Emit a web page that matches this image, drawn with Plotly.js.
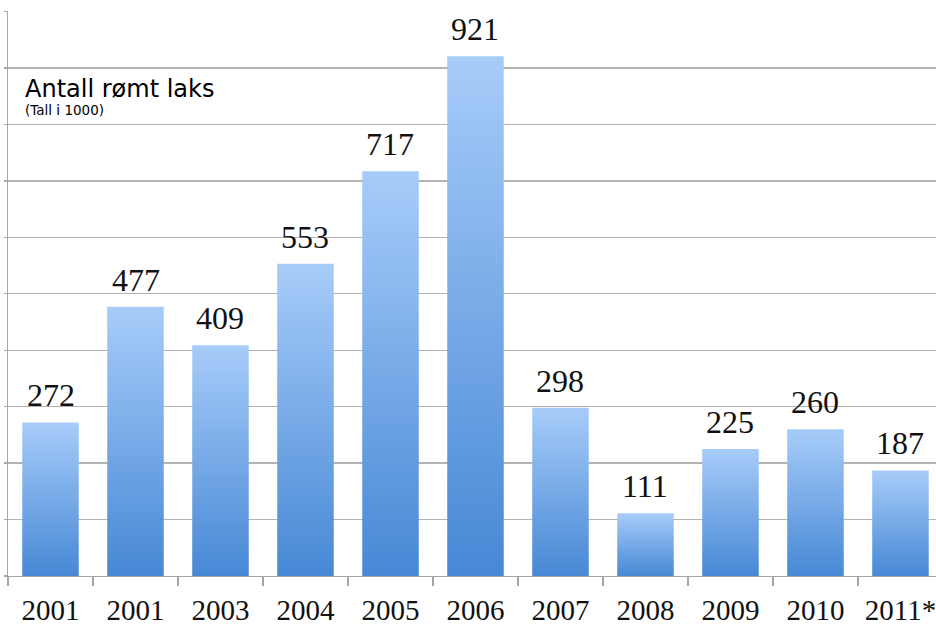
<!DOCTYPE html>
<html>
<head>
<meta charset="utf-8">
<script src="https://cdn.plot.ly/plotly-3.0.1.min.js"></script>
<style>
  html, body { margin: 0; padding: 0; background: #ffffff; }
  #chart { width: 936px; height: 627px; }
</style>
</head>
<body>
<div id="chart"></div>
<script>
// ---- data ----
const yearLabels = ['2001', '2001', '2003', '2004', '2005', '2006', '2007', '2008', '2009', '2010', '2011*'];
const escapedSalmon = [272, 477, 409, 553, 717, 921, 298, 111, 225, 260, 187];
const chartTitle = 'Antall rømt laks';
const chartSubtitle = '(Tall i 1000)';

const positions = yearLabels.map((_, i) => i);

const valueFont = { family: 'Liberation Serif, Times New Roman, serif', size: 32, color: '#111111' };

const trace = {
  type: 'bar',
  x: positions,
  y: escapedSalmon,
  marker: { color: '#6fa5e6', line: { width: 0 } },
  hoverinfo: 'skip'
};

const valueAnnotations = escapedSalmon.map((v, i) => ({
  x: positions[i], y: v, xref: 'x', yref: 'y',
  text: String(v), showarrow: false,
  xanchor: 'center', yanchor: 'bottom', yshift: 7,
  font: valueFont
}));

const titleAnnotations = [
  { xref: 'paper', yref: 'paper', x: 0, y: 0.862, xanchor: 'left', yanchor: 'middle', xshift: 15,
    text: chartTitle, showarrow: false,
    font: { family: 'DejaVu Sans, Verdana, sans-serif', size: 24, color: '#000000' } },
  { xref: 'paper', yref: 'paper', x: 0, y: 0.825, xanchor: 'left', yanchor: 'middle', xshift: 15,
    text: chartSubtitle, showarrow: false,
    font: { family: 'DejaVu Sans, Verdana, sans-serif', size: 13.5, color: '#000000' } }
];

const layout = {
  width: 936, height: 627,
  margin: { l: 8, r: 0, t: 11, b: 51, pad: 0 },
  paper_bgcolor: '#ffffff', plot_bgcolor: '#ffffff',
  showlegend: false,
  bargap: 0.335,
  xaxis: {
    type: 'linear',
    range: [-0.5, 10.418],
    tickmode: 'array', tickvals: positions, ticktext: yearLabels,
    ticks: '', showgrid: false, zeroline: false,
    showline: true, linecolor: '#a6a6a6', linewidth: 1.3,
    tickfont: { family: 'Liberation Serif, Times New Roman, serif', size: 29, color: '#111111' },
    ticklabelstandoff: 8,
    ticklabeloverflow: 'allow',
    minor: { tick0: -0.5, dtick: 1, ticks: 'outside', ticklen: 9, tickwidth: 1.3, tickcolor: '#a6a6a6', showgrid: false },
    fixedrange: true
  },
  yaxis: {
    range: [0, 1001],
    dtick: 100, tick0: 0,
    showgrid: true, gridcolor: '#b3b3b3', gridwidth: 1.3,
    zeroline: false,
    showline: true, linecolor: '#a6a6a6', linewidth: 1.3,
    ticks: 'outside', ticklen: 3, tickwidth: 1.3, tickcolor: '#a6a6a6',
    showticklabels: false,
    fixedrange: true
  },
  annotations: valueAnnotations.concat(titleAnnotations)
};

function applyGradient() {
  const svg = document.querySelector('#chart .main-svg');
  if (!svg) return;
  const ns = 'http://www.w3.org/2000/svg';
  let defs = svg.querySelector('defs');
  if (!defs) { defs = document.createElementNS(ns, 'defs'); svg.insertBefore(defs, svg.firstChild); }
  if (!svg.querySelector('#barGrad')) {
    const grad = document.createElementNS(ns, 'linearGradient');
    grad.setAttribute('id', 'barGrad');
    grad.setAttribute('x1', '0'); grad.setAttribute('y1', '0');
    grad.setAttribute('x2', '0'); grad.setAttribute('y2', '1');
    [['0%', '#a7ccf9'], ['100%', '#4788d5']].forEach(([o, c]) => {
      const s = document.createElementNS(ns, 'stop');
      s.setAttribute('offset', o); s.setAttribute('stop-color', c);
      grad.appendChild(s);
    });
    defs.appendChild(grad);
  }
  document.querySelectorAll('#chart .trace.bars .point path').forEach(p => {
    p.style.fill = 'url(#barGrad)';
  });
}

Plotly.newPlot('chart', [trace], layout, { displayModeBar: false, staticPlot: true })
  .then(applyGradient);
</script>
</body>
</html>
